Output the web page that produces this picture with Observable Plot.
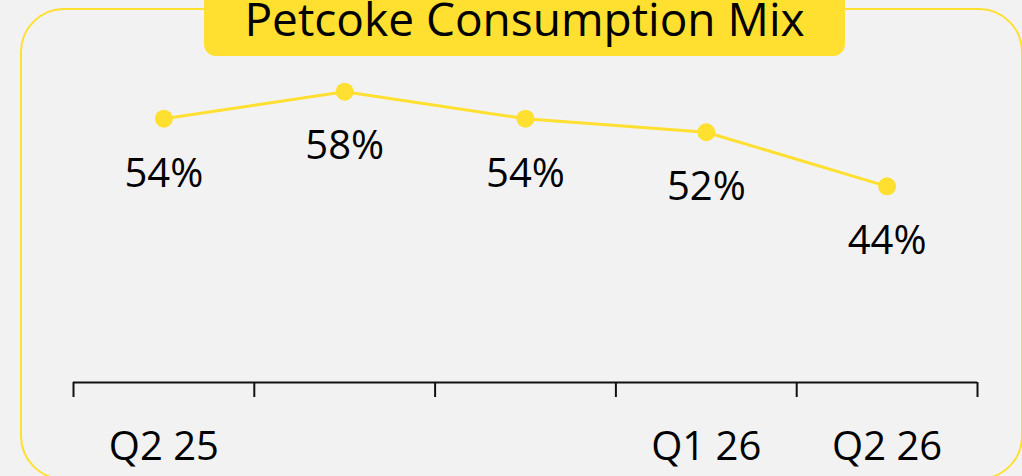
<!DOCTYPE html>
<html>
<head>
<meta charset="utf-8">
<script src="https://cdn.jsdelivr.net/npm/d3@7"></script>
<script src="https://cdn.jsdelivr.net/npm/@observablehq/plot@0.6"></script>
<style>
  html, body { margin: 0; padding: 0; background: #f2f2f2; }
  #wrap { position: relative; width: 1022px; height: 476px; overflow: hidden; background: #f2f2f2; font-family: "Open Sans", sans-serif; }
  #border { position: absolute; left: 20px; top: 8px; width: 1003px; height: 472px; box-sizing: border-box; border: 2px solid #FFDF2F; border-radius: 44px; }
  #title { position: absolute; left: 204px; top: 0; width: 641px; height: 56px; background: #FFDF2F; border-radius: 0 0 12px 12px; text-align: center; color: #000; font-size: 46px; line-height: 37px; box-sizing: border-box; padding-top: 0; white-space: nowrap; }
  #chart { position: absolute; left: 0; top: 0; }
  #chart svg { background: transparent; overflow: visible; }
</style>
</head>
<body>
<div id="wrap">
  <div id="border"></div>
  <div id="chart"></div>
  <div id="title">Petcoke Consumption Mix</div>
</div>
<script>
const quarters = ["Q2 25", "Q3 25", "Q4 25", "Q1 26", "Q2 26"];
const axisLabels = ["Q2 25", "", "", "Q1 26", "Q2 26"];
const petcokeShare = [54, 58, 54, 52, 44];
const yMin = 15, yMax = 70;

const yellow = "#FFDF2F";
const data = quarters.map((q, i) => ({ q, pos: i + 0.5, value: petcokeShare[i] }));

const chart = Plot.plot({
  width: 1022,
  height: 476,
  marginLeft: 73,
  marginRight: 45,
  marginTop: 10,
  marginBottom: 94,
  style: { fontFamily: "Open Sans, sans-serif", fontSize: "40px", color: "#000", background: "transparent" },
  x: { type: "linear", domain: [0, quarters.length], axis: null, label: null },
  y: { domain: [yMin, yMax], axis: null, label: null },
  marks: [
    Plot.ruleY([yMin], { stroke: "#111", strokeWidth: 2 }),
    Plot.axisX({ ticks: d3.range(quarters.length + 1), tickSize: 15, tickFormat: () => "", stroke: "#111", strokeWidth: 2, label: null }),
    Plot.axisX({ ticks: data.map(d => d.pos), tickSize: 0, tickPadding: 49, tickFormat: d => axisLabels[Math.floor(d)], fontSize: 40, fill: "#000", label: null }),
    Plot.line(data, { x: "pos", y: "value", stroke: yellow, strokeWidth: 3 }),
    Plot.dot(data, { x: "pos", y: "value", r: 9, fill: yellow, stroke: "none" }),
    Plot.text(data, { x: "pos", y: "value", text: d => d.value + "%", dy: 55, fontSize: 40, fill: "#000" })
  ]
});
document.getElementById("chart").appendChild(chart);
</script>
</body>
</html>
